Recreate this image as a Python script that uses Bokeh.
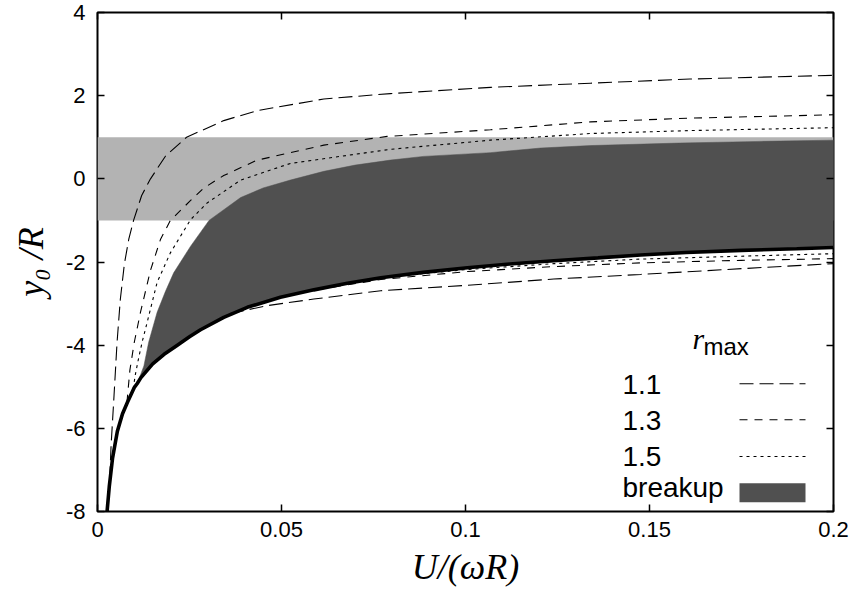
from bokeh.plotting import figure
from bokeh.models import (FixedTicker, LinearAxis, Label, Arrow, BoxAnnotation,
                          Range1d, CustomJSTickFormatter)
from bokeh.embed import file_html
from bokeh.resources import INLINE

# ---------------- data ----------------
x_ticks = [0, 0.05, 0.1, 0.15, 0.2]
x_tick_labels = ["0", "0.05", "0.1", "0.15", "0.2"]
y_ticks = [-8, -6, -4, -2, 0, 2, 4]
y_tick_labels = ["-8", "-6", "-4", "-2", "0", "2", "4"]

# light grey band |y0/R| < 1
band_x = [0.0, 0.2]
band_lo = [-1.0, -1.0]
band_hi = [1.0, 1.0]

# critical (thick) curve
crit_x = [0.0026, 0.0032, 0.0041, 0.0054, 0.0068, 0.0082, 0.0100, 0.0108, 0.0118, 0.0150,
          0.0181, 0.0217, 0.0250, 0.0280, 0.0343, 0.0407, 0.0497, 0.0588, 0.0679, 0.0770,
          0.0885, 0.1005, 0.1120, 0.1240, 0.1360, 0.1476, 0.1600, 0.1750, 0.1900, 0.2000]
crit_y = [-8.0, -7.4, -6.71, -6.07, -5.65, -5.36, -5.02, -4.92, -4.78, -4.45,
          -4.22, -4.0, -3.8, -3.63, -3.33, -3.09, -2.85, -2.67, -2.51, -2.38,
          -2.25, -2.14, -2.05, -1.97, -1.9, -1.83, -1.77, -1.72, -1.68, -1.65]

# upper edge of the breakup region
brk_x = [0.0108, 0.0126, 0.0139, 0.0162, 0.0185, 0.0207, 0.0253, 0.0303, 0.0389, 0.0450,
         0.0524, 0.0615, 0.0700, 0.0796, 0.0886, 0.1068, 0.1204, 0.1340, 0.1580, 0.1800, 0.2000]
brk_y = [-4.92, -4.5, -3.93, -3.21, -2.7, -2.26, -1.62, -1.0, -0.45, -0.22,
         -0.03, 0.18, 0.33, 0.45, 0.54, 0.63, 0.74, 0.8, 0.86, 0.9, 0.93]

# r_max = 1.1
r11_up_x = [0.0033, 0.0037, 0.0045, 0.0053, 0.0062, 0.0073, 0.0085, 0.0098, 0.0120, 0.0144,
            0.0185, 0.0242, 0.0343, 0.0434, 0.0615, 0.0796, 0.1068, 0.1340, 0.1610, 0.2000]
r11_up_y = [-7.25, -6.4, -5.2, -3.95, -2.9, -2.05, -1.45, -1.0, -0.4, 0.0,
            0.55, 1.0, 1.4, 1.64, 1.92, 2.05, 2.2, 2.3, 2.4, 2.49]
r11_lo_x = [0.0360, 0.0461, 0.0588, 0.0770, 0.1005, 0.1240, 0.1476, 0.1750, 0.2000]
r11_lo_y = [-3.24, -3.05, -2.89, -2.69, -2.56, -2.41, -2.3, -2.16, -2.04]

# r_max = 1.3
r13_up_x = [0.0080, 0.0088, 0.0100, 0.0117, 0.0144, 0.0171, 0.0198, 0.0253, 0.0289, 0.0343,
            0.0434, 0.0615, 0.0787, 0.1068, 0.1340, 0.1610, 0.2000]
r13_up_y = [-5.38, -4.6, -3.93, -3.2, -2.2, -1.46, -1.0, -0.52, -0.22, 0.08,
            0.45, 0.81, 1.02, 1.18, 1.37, 1.46, 1.54]
r13_lo_x = [0.0600, 0.0770, 0.1005, 0.1240, 0.1476, 0.1750, 0.2000]
r13_lo_y = [-2.66, -2.42, -2.23, -2.11, -2.02, -1.96, -1.92]

# r_max = 1.5
r15_up_x = [0.0097, 0.0103, 0.0112, 0.0122, 0.0135, 0.0162, 0.0198, 0.0253, 0.0298, 0.0389,
            0.0524, 0.0796, 0.1068, 0.1340, 0.1610, 0.2000]
r15_up_y = [-5.05, -4.7, -4.3, -3.9, -3.45, -2.49, -1.78, -0.98, -0.58, -0.03,
            0.37, 0.71, 0.93, 1.09, 1.16, 1.23]
r15_lo_x = [0.0800, 0.1005, 0.1240, 0.1476, 0.1750, 0.2000]
r15_lo_y = [-2.35, -2.18, -2.04, -1.93, -1.86, -1.8]

legend_labels = ["1.1", "1.3", "1.5", "breakup"]
dashes = ["14 6", "8 7", "3 4"]

# ---------------- figure ----------------
p = figure(width=850, height=590, x_range=Range1d(0, 0.2), y_range=Range1d(-8, 4),
           output_backend="svg", toolbar_location=None,
           min_border_left=97, min_border_right=17, min_border_top=12, min_border_bottom=79)
p.xgrid.visible = False
p.ygrid.visible = False
p.background_fill_color = "white"
p.outline_line_color = "black"
p.outline_line_width = 2
p.outline_line_alpha = 1

# band and breakup region
p.varea(x=band_x, y1=band_lo, y2=band_hi, fill_color="#b3b3b3")
sel = [i for i, xv in enumerate(crit_x) if xv >= brk_x[0]]
patch_x = brk_x + [crit_x[i] for i in reversed(sel)]
patch_y = brk_y + [crit_y[i] for i in reversed(sel)]
p.patch(x=patch_x, y=patch_y, fill_color="#505050", line_color="#505050", line_width=0.5)

# r_max curves
for (ux, uy, lx, ly), d in zip([(r11_up_x, r11_up_y, r11_lo_x, r11_lo_y),
                                 (r13_up_x, r13_up_y, r13_lo_x, r13_lo_y),
                                 (r15_up_x, r15_up_y, r15_lo_x, r15_lo_y)], dashes):
    p.line(ux, uy, line_color="black", line_width=1.1, line_dash=d)
    p.line(lx, ly, line_color="black", line_width=1.1, line_dash=d)

# critical curve
p.line(crit_x, crit_y, line_color="black", line_width=3.6)

# ---------------- axes ----------------
tick_font = "Liberation Sans"
for ax in (p.xaxis[0], p.yaxis[0]):
    ax.axis_line_color = None
    ax.major_tick_in = 7
    ax.major_tick_out = 0
    ax.minor_tick_in = 0
    ax.minor_tick_out = 0
    ax.major_tick_line_width = 1.5
    ax.major_label_text_font = tick_font
    ax.major_label_text_font_size = "22px"
    ax.major_label_text_color = "black"
    ax.axis_label_text_font = "Liberation Serif"
    ax.axis_label_text_font_style = "italic"
    ax.axis_label_text_font_size = "36px"
    ax.axis_label_text_color = "black"

p.xaxis[0].ticker = FixedTicker(ticks=x_ticks)
p.xaxis[0].major_label_overrides = dict(zip(x_ticks, x_tick_labels))
p.xaxis[0].major_label_standoff = 10
p.xaxis[0].axis_label = "U/(ωR)"
p.xaxis[0].axis_label_standoff = 7

p.yaxis[0].ticker = FixedTicker(ticks=y_ticks)
p.yaxis[0].major_label_overrides = dict(zip(y_ticks, y_tick_labels))
p.yaxis[0].major_label_standoff = 12
p.yaxis[0].axis_label = "y₀ /R"
p.yaxis[0].axis_label_standoff = 12

blank = CustomJSTickFormatter(code="return ''")
top_ax = LinearAxis(ticker=FixedTicker(ticks=x_ticks), formatter=blank)
right_ax = LinearAxis(ticker=FixedTicker(ticks=y_ticks), formatter=blank)
for ax in (top_ax, right_ax):
    ax.axis_line_color = None
    ax.major_tick_in = 7
    ax.major_tick_out = 0
    ax.minor_tick_in = 0
    ax.minor_tick_out = 0
    ax.major_tick_line_width = 1.5
    ax.major_label_text_font_size = "1px"
    ax.major_label_standoff = 0
p.add_layout(top_ax, "above")
p.add_layout(right_ax, "right")

# ---------------- legend (gnuplot style: text left, sample right) ----------------
p.add_layout(Label(x=595, y=157, x_units="screen", y_units="screen", text="r",
                   text_font="Liberation Serif", text_font_style="italic",
                   text_font_size="30px", text_color="black"))
p.add_layout(Label(x=606, y=152, x_units="screen", y_units="screen", text="max",
                   text_font=tick_font, text_font_size="24px", text_color="black"))

row_y = [118, 82, 46, 9]
line_y = [127.7, 91.7, 55]
for lab, yy in zip(legend_labels, row_y):
    p.add_layout(Label(x=525, y=yy, x_units="screen", y_units="screen", text=lab,
                       text_font=tick_font, text_font_size="28px", text_color="black"))
for d, yy in zip(dashes, line_y):
    p.add_layout(Arrow(start=None, end=None, x_start=642, y_start=yy, x_end=708, y_end=yy,
                       start_units="screen", end_units="screen",
                       line_color="black", line_width=1.1, line_dash=d))
p.add_layout(BoxAnnotation(left=642, right=708, top=28.3, bottom=9.3,
                           left_units="screen", right_units="screen",
                           top_units="screen", bottom_units="screen",
                           fill_color="#505050", fill_alpha=1, line_color=None))

open("out.html", "w").write(file_html(p, INLINE))
